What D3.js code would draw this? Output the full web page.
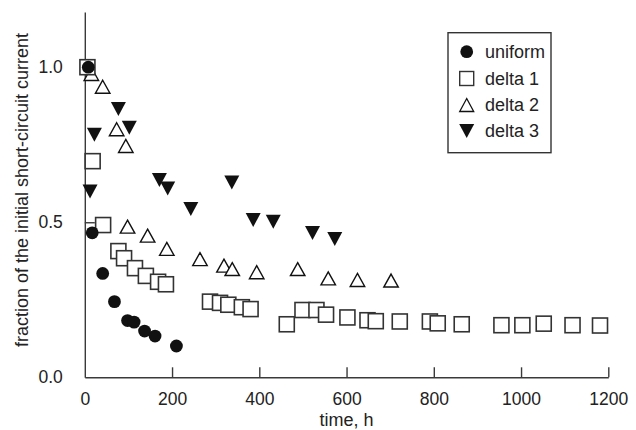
<!DOCTYPE html>
<html><head><meta charset="utf-8">
<script src="https://cdn.jsdelivr.net/npm/d3@7"></script>
<style>
html,body{margin:0;padding:0;background:#fff;}
text{font-family:"Liberation Sans",Arial,Helvetica,sans-serif;fill:#222;}
</style></head>
<body><svg id="chart" width="636" height="430"></svg>
<script>
// ---- data ----
const uniformT = [8, 17, 41, 68, 98, 113, 137, 161, 210];
const uniformV = [1.0, 0.466, 0.335, 0.244, 0.183, 0.178, 0.149, 0.133, 0.101];

const delta1T = [6, 18, 42, 77, 90, 115, 140, 168, 186, 287, 310, 329, 360, 380, 463, 499, 531, 553, 602, 648, 667, 722, 791, 809, 864, 955, 1003, 1052, 1118, 1181];
const delta1V = [1.0, 0.697, 0.491, 0.407, 0.384, 0.352, 0.327, 0.308, 0.30, 0.244, 0.24, 0.234, 0.226, 0.22, 0.171, 0.217, 0.217, 0.202, 0.193, 0.184, 0.181, 0.18, 0.18, 0.174, 0.171, 0.168, 0.168, 0.173, 0.168, 0.167];

const delta2T = [15, 41, 73, 94, 98, 144, 188, 264, 319, 338, 394, 488, 558, 625, 702];
const delta2V = [0.978, 0.937, 0.80, 0.746, 0.486, 0.457, 0.414, 0.381, 0.36, 0.349, 0.339, 0.349, 0.319, 0.314, 0.312];

const delta3T = [12, 22, 77, 102, 171, 190, 243, 337, 386, 432, 522, 573];
const delta3V = [0.599, 0.782, 0.865, 0.805, 0.636, 0.609, 0.543, 0.628, 0.507, 0.502, 0.465, 0.446];

const xTicks = [0, 200, 400, 600, 800, 1000, 1200];
const yTicks = [0.0, 0.5, 1.0];
const seriesNames = ["uniform", "delta 1", "delta 2", "delta 3"];
const xTitle = "time, h";
const yTitle = "fraction of the initial short-circuit current";

// ---- layout ----
const svg = d3.select("#chart");
const x = d3.scaleLinear().domain([0, 1200]).range([84.8, 608.3]);
const y = d3.scaleLinear().domain([0, 1.178]).range([377.3, 12]);
const axisColor = "#3a3a3a";
const fs = 17.5;

const xAxis = d3.axisBottom(x).tickValues(xTicks).tickSizeInner(-10).tickSizeOuter(0).tickPadding(15)
  .tickFormat(d3.format("d"));
const gx = svg.append("g").attr("transform", `translate(0,${y(0)})`).call(xAxis);
gx.select(".domain").attr("stroke", axisColor).attr("stroke-width", 1.4);
gx.selectAll(".tick line").attr("stroke", axisColor).attr("stroke-width", 1.4);
gx.selectAll(".tick").filter(d => d === 0).select("line").remove();
gx.selectAll(".tick text").attr("font-size", fs).attr("font-family", null).attr("fill", "#222");

const yAxis = d3.axisLeft(y).tickValues(yTicks).tickSizeInner(-10).tickSizeOuter(0).tickPadding(22)
  .tickFormat(d3.format(".1f"));
const gy = svg.append("g").attr("transform", `translate(${x(0)},0)`).call(yAxis);
gy.select(".domain").attr("stroke", axisColor).attr("stroke-width", 1.4);
gy.selectAll(".tick line").attr("stroke", axisColor).attr("stroke-width", 1.4);
gy.selectAll(".tick").filter(d => d === 0).select("line").remove();
gy.selectAll(".tick text").attr("font-size", fs).attr("font-family", null).attr("fill", "#222");

// titles
svg.append("text").attr("x", (x(0) + x(1200)) / 2).attr("y", 426)
  .attr("text-anchor", "middle").attr("font-size", 18).text(xTitle);
svg.append("text").attr("transform", `translate(28,190) rotate(-90)`)
  .attr("text-anchor", "middle").attr("font-size", 18).text(yTitle);

// marker shapes
const sq = 15, triW = 14.5, triH = 13, dtriW = 15, dtriH = 14;
function upTri(w, h) { return `M0,${-h/2}L${w/2},${h/2}L${-w/2},${h/2}Z`; }
function downTri(w, h) { return `M0,${h/2}L${w/2},${-h/2}L${-w/2},${-h/2}Z`; }
function pts(T, V) { return T.map((t, i) => ({t, v: V[i]})); }

const plot = svg.append("g");
// delta 2 (open up-triangles)
plot.append("g").selectAll("path").data(pts(delta2T, delta2V)).join("path")
  .attr("transform", d => `translate(${x(d.t)},${y(d.v)})`)
  .attr("d", upTri(triW, triH)).attr("fill", "#fff").attr("stroke", "#111").attr("stroke-width", 1.4);
// delta 3 (filled down-triangles)
plot.append("g").selectAll("path").data(pts(delta3T, delta3V)).join("path")
  .attr("transform", d => `translate(${x(d.t)},${y(d.v)})`)
  .attr("d", downTri(dtriW, dtriH)).attr("fill", "#111");
// delta 1 (open squares)
plot.append("g").selectAll("rect").data(pts(delta1T, delta1V)).join("rect")
  .attr("x", d => x(d.t) - sq / 2).attr("y", d => y(d.v) - sq / 2)
  .attr("width", sq).attr("height", sq)
  .attr("fill", "#fff").attr("stroke", "#333").attr("stroke-width", 1.6);
// uniform (filled circles)
plot.append("g").selectAll("circle").data(pts(uniformT, uniformV)).join("circle")
  .attr("cx", d => x(d.t)).attr("cy", d => y(d.v)).attr("r", 6.4).attr("fill", "#111");

// legend
const lg = svg.append("g");
lg.append("rect").attr("x", 448).attr("y", 32.7).attr("width", 103).attr("height", 120)
  .attr("fill", "#fff").attr("stroke", "#333").attr("stroke-width", 1.4);
const rowY = [51.7, 78.5, 105, 131];
const mx = 466.7;
lg.append("circle").attr("cx", mx).attr("cy", rowY[0]).attr("r", 6.4).attr("fill", "#111");
lg.append("rect").attr("x", mx - 7).attr("y", rowY[1] - 7).attr("width", 14).attr("height", 14)
  .attr("fill", "#fff").attr("stroke", "#333").attr("stroke-width", 1.4);
lg.append("path").attr("transform", `translate(${mx},${rowY[2]})`).attr("d", upTri(14, 13))
  .attr("fill", "#fff").attr("stroke", "#111").attr("stroke-width", 1.3);
lg.append("path").attr("transform", `translate(${mx},${rowY[3]})`).attr("d", downTri(15, 14))
  .attr("fill", "#111");
seriesNames.forEach((name, i) => {
  lg.append("text").attr("x", 485).attr("y", rowY[i] + 6).attr("font-size", 18).text(name);
});
</script>
</body></html>
